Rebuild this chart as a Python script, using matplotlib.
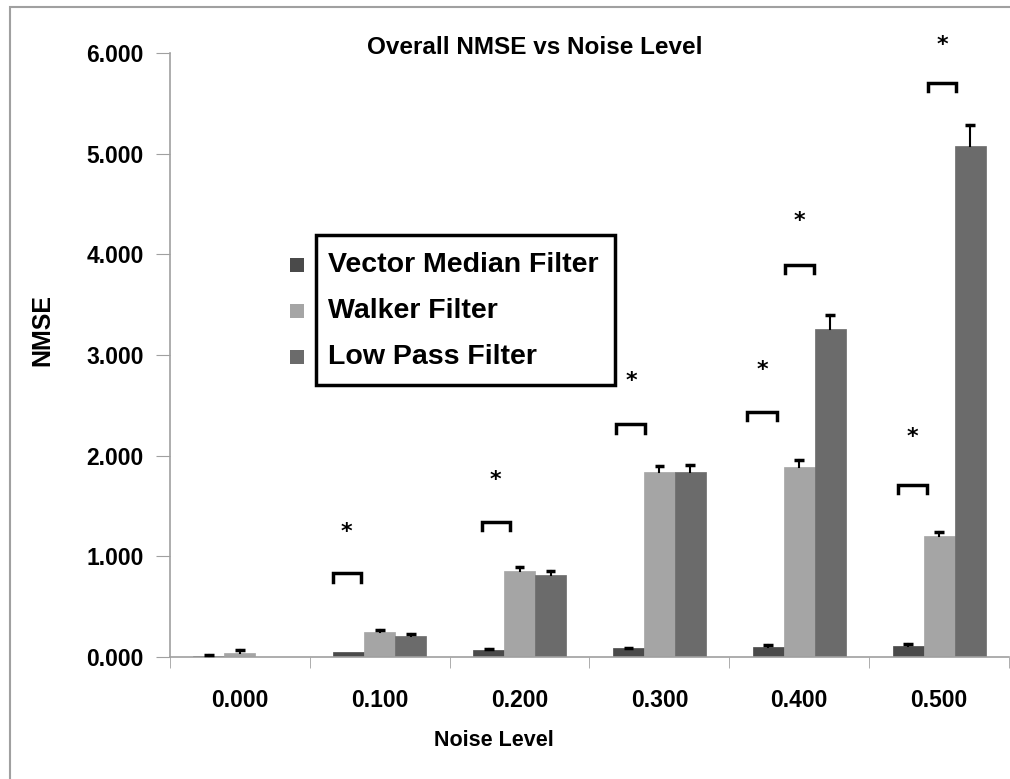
import matplotlib
matplotlib.use("Agg")
import matplotlib.pyplot as plt
from matplotlib.patches import Rectangle
import numpy as np

plt.rcParams['font.family'] = ['Liberation Sans', 'DejaVu Sans']
plt.rcParams['font.weight'] = 'bold'

categories = ["0.000", "0.100", "0.200", "0.300", "0.400", "0.500"]
series_names = ["Vector Median Filter", "Walker Filter", "Low Pass Filter"]
vmf = [0.010, 0.050, 0.070, 0.085, 0.095, 0.110]
vmf_err = [0.005, 0.000, 0.005, 0.005, 0.020, 0.020]
walker = [0.040, 0.245, 0.855, 1.835, 1.885, 1.205]
walker_err = [0.025, 0.020, 0.040, 0.065, 0.070, 0.040]
lpf = [0.002, 0.210, 0.815, 1.840, 3.260, 5.080]
lpf_err = [0.000, 0.020, 0.040, 0.070, 0.140, 0.200]
colors = ["#4a4a4a", "#a5a5a5", "#6b6b6b"]

# significance brackets: (group index, left offset, right offset, height)
bracket_group = [1, 2, 3, 4, 4, 5, 5]
bracket_left = [-0.336, -0.271, -0.307, -0.371, -0.100, -0.293, -0.079]
bracket_right = [-0.136, -0.071, -0.100, -0.157, 0.107, -0.086, 0.121]
bracket_y = [0.83, 1.34, 2.31, 2.43, 3.89, 1.71, 5.70]
star_y = [1.24, 1.76, 2.74, 2.85, 4.33, 2.19, 6.08]

W, H = 1010, 779
fig = plt.figure(figsize=(W / 100, H / 100), dpi=100)
ax = fig.add_axes([170 / W, (H - 657) / H, (1009 - 170) / W, (657 - 53) / H])

x = np.arange(len(categories))
bw = 0.2214
cap = 0.035
data = [(vmf, vmf_err), (walker, walker_err), (lpf, lpf_err)]
for i, (vals, errs) in enumerate(data):
    pos = x + (i - 1) * bw
    ax.bar(pos, vals, width=bw, color=colors[i], edgecolor=colors[i], linewidth=0.5, zorder=2)
    for p, v, e in zip(pos, vals, errs):
        if e > 0:
            ax.plot([p, p], [v, v + e], color='black', lw=1.5, zorder=3, clip_on=False)
            ax.plot([p - cap, p + cap], [v + e, v + e], color='black', lw=2.5,
                    zorder=3, clip_on=False, solid_capstyle='butt')

tick_h = 0.08
for g, l, r, yb, ys in zip(bracket_group, bracket_left, bracket_right, bracket_y, star_y):
    ax.plot([g + l, g + l, g + r, g + r], [yb - tick_h, yb, yb, yb - tick_h],
            color='black', lw=2.5, solid_joinstyle='miter', zorder=4, clip_on=False)
    ax.text(g + (l + r) / 2, ys, "*", ha='center', va='center', fontsize=16,
            fontweight='bold', color='black', family='DejaVu Sans')

ax.set_xlim(-0.5, 5.5)
ax.set_ylim(0, 6)
ax.set_yticks(np.arange(0, 7, 1))
ax.set_yticklabels([f"{v:.3f}" for v in np.arange(0, 7, 1)])
ax.set_xticks(x)
ax.set_xticklabels(categories)
ax.set_xticks(np.arange(-0.5, 6.0, 1), minor=True)
ax.tick_params(axis='x', which='major', length=0, pad=23, labelsize=16.5)
ax.tick_params(axis='x', which='minor', length=8, color='#a0a0a0', direction='out')
ax.tick_params(axis='y', length=10, color='#a0a0a0', direction='out', pad=9, labelsize=16.5)
for s in ['top', 'right']:
    ax.spines[s].set_visible(False)
for s in ['left', 'bottom']:
    ax.spines[s].set_color('#a0a0a0')
    ax.spines[s].set_linewidth(1.2)

fig.text(535 / W, 1 - 47 / H, "Overall NMSE vs Noise Level", ha='center', va='center',
         fontsize=17.5, fontweight='bold')
fig.text(42 / W, 1 - 330 / H, "NMSE", rotation=90, ha='center', va='center',
         fontsize=18, fontweight='bold')
fig.text(494 / W, 1 - 740 / H, "Noise Level", ha='center', va='center',
         fontsize=15.5, fontweight='bold')

# legend (drawn manually, markers outside the box)
fig.patches.append(Rectangle((316 / W, 1 - 385 / H), (615 - 316) / W, (385 - 235) / H,
                             transform=fig.transFigure, fill=False, edgecolor='black',
                             linewidth=2.5, zorder=5))
leg_y = [265, 311, 357]
for name, c, yy in zip(series_names, colors, leg_y):
    fig.patches.append(Rectangle((290 / W, 1 - (yy + 7) / H), 14 / W, 14 / H,
                                 transform=fig.transFigure, facecolor=c, edgecolor='none'))
    fig.text(328 / W, 1 - yy / H, name, ha='left', va='center', fontsize=20.5,
             fontweight='bold')

# outer chart border
fig.patches.append(Rectangle((10 / W, -0.05), 1.2, 1 - 7 / H + 0.05,
                             transform=fig.transFigure, fill=False, edgecolor='#a0a0a0',
                             linewidth=1.5))

fig.savefig("out.png", dpi=100)
